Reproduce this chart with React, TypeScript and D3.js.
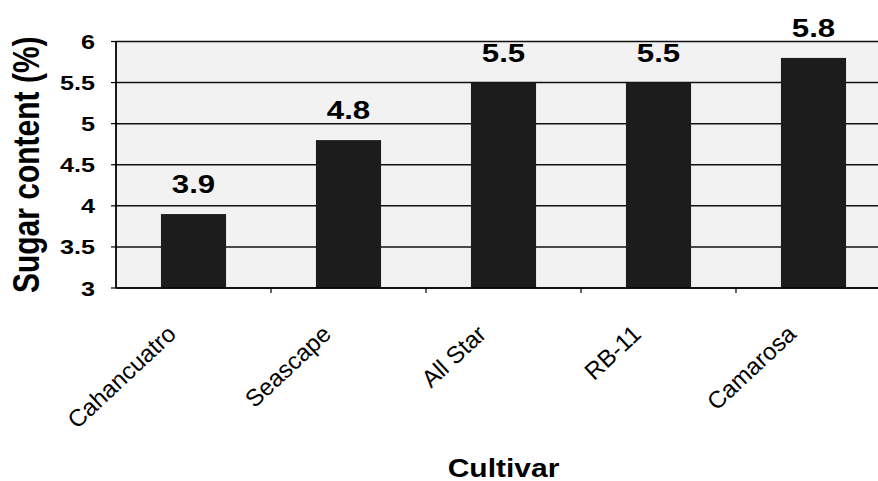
import React from "react";
import * as d3 from "d3";

// Sugar content per strawberry cultivar
const cultivars = ["Cahancuatro", "Seascape", "All Star", "RB-11", "Camarosa"];
const sugarContent = [3.9, 4.8, 5.5, 5.5, 5.8];
const yTicks = [3, 3.5, 4, 4.5, 5, 5.5, 6];

const W = 878;
const H = 481;
// the figure body is drawn 1.2x wider than tall
const SX = 1.2;
const FONT = "Arial, 'Liberation Sans', Helvetica, sans-serif";

const plotLeft = 116 / SX;
const plotRight = 891 / SX;
const plotTop = 41.5;
const plotBottom = 288;

export default function App() {
  const x = d3
    .scaleBand<string>()
    .domain(cultivars)
    .range([plotLeft, plotRight])
    .paddingInner(0.58)
    .paddingOuter(0.29);
  const y = d3.scaleLinear().domain([3, 6]).range([plotBottom, plotTop]);
  const step = x.step();
  const bandStart = (i: number) => plotLeft + i * step;

  return (
    <svg
      width={W}
      height={H}
      style={{ position: "absolute", left: 0, top: 0, background: "#fff" }}
      fontFamily={FONT}
    >
      <g transform={`scale(${SX},1)`}>
        {/* plot background */}
        <rect
          x={plotLeft}
          y={plotTop}
          width={plotRight - plotLeft}
          height={plotBottom - plotTop}
          fill="#f2f2f2"
        />
        {/* horizontal gridlines */}
        {yTicks.map((t) => (
          <line
            key={"g" + t}
            x1={plotLeft}
            x2={plotRight}
            y1={y(t)}
            y2={y(t)}
            stroke="#111"
            strokeWidth={1.5}
          />
        ))}
        {/* bars */}
        {cultivars.map((c, i) => (
          <rect
            key={"b" + c}
            x={x(c)}
            y={y(sugarContent[i])}
            width={x.bandwidth()}
            height={plotBottom - y(sugarContent[i])}
            fill="#1c1c1c"
          />
        ))}
        {/* value labels */}
        {cultivars.map((c, i) => (
          <text
            key={"v" + c}
            x={(x(c) as number) + x.bandwidth() / 2}
            y={y(sugarContent[i]) - 21}
            textAnchor="middle"
            fontSize={26}
            fontWeight="bold"
            fill="#000"
          >
            {sugarContent[i].toFixed(1)}
          </text>
        ))}
        {/* axes */}
        <line x1={plotLeft} x2={plotLeft} y1={plotTop} y2={plotBottom} stroke="#000" strokeWidth={1.5} />
        <line x1={plotLeft} x2={plotRight} y1={plotBottom} y2={plotBottom} stroke="#000" strokeWidth={1.5} />
        {yTicks.map((t) => (
          <g key={"yt" + t}>
            <line
              x1={plotLeft - 5 / SX}
              x2={plotLeft}
              y1={y(t)}
              y2={y(t)}
              stroke="#000"
              strokeWidth={1.2}
            />
            <text
              x={95 / SX}
              y={y(t)}
              dy="0.36em"
              textAnchor="end"
              fontSize={21}
              fontWeight="bold"
              fill="#000"
            >
              {String(t)}
            </text>
          </g>
        ))}
        {cultivars.map((c, i) => (
          <line
            key={"xt" + c}
            x1={bandStart(i + 1)}
            x2={bandStart(i + 1)}
            y1={plotBottom}
            y2={plotBottom + 5}
            stroke="#000"
            strokeWidth={1}
          />
        ))}
        {/* axis titles */}
        <text
          x={(plotLeft + plotRight) / 2}
          y={477}
          textAnchor="middle"
          fontSize={25}
          fontWeight="bold"
          fill="#000"
        >
          Cultivar
        </text>
        <text
          transform={`translate(${39 / SX},${(plotTop + plotBottom) / 2}) rotate(-90)`}
          textAnchor="middle"
          fontSize={30}
          fontWeight="bold"
          fill="#000"
        >
          Sugar content (%)
        </text>
      </g>
      {/* slanted category labels */}
      {cultivars.map((c) => {
        const cx = ((x(c) as number) + x.bandwidth() / 2) * SX - 16;
        return (
          <text
            key={"xl" + c}
            transform={`translate(${cx},336) rotate(-43)`}
            textAnchor="end"
            fontSize={24}
            fill="#000"
          >
            {c}
          </text>
        );
      })}
    </svg>
  );
}
